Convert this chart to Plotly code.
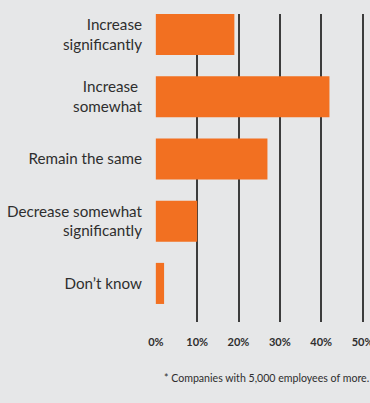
import plotly.graph_objects as go

categories = ["Increase<br>significantly", "Increase <br>somewhat", "Remain the same",
              "Decrease somewhat<br>significantly", "Don\u2019t know"]
values = [19, 42, 27, 10, 2]
tick_vals = [0, 10, 20, 30, 40, 50]
tick_text = ["0%", "10%", "20%", "30%", "40%", "50%"]
footnote = "* Companies with 5,000 employees of more."

BG = "#e6e7e8"
FONT = "Lato, 'DejaVu Sans', sans-serif"
fig = go.Figure(go.Bar(
    x=values, y=categories, orientation="h",
    marker=dict(color="#f27021", line=dict(width=0)),
    width=0.66, hoverinfo="skip",
))

fig.update_layout(
    width=370, height=403,
    margin=dict(l=155, r=5, t=14, b=81),
    paper_bgcolor=BG, plot_bgcolor=BG,
    showlegend=False,
    font=dict(family=FONT, color="#2e2e2e"),
    xaxis=dict(range=[-0.2, 50.6], tickvals=tick_vals, ticktext=tick_text,
               showgrid=True, gridcolor="#3c3c3c", gridwidth=1.6, zeroline=False,
               showline=False, ticks="", fixedrange=True, automargin=False,
               ticklabeloverflow="allow",
               tickfont=dict(size=11, family=FONT, color="#2e2e2e", weight="bold"),
               ticklabelstandoff=12),
    yaxis=dict(categoryorder="array", categoryarray=categories, automargin=False,
               range=[4.62, -0.33], showgrid=False, zeroline=False, showline=False,
               ticks="", tickfont=dict(size=15.2), ticklabelstandoff=12),
    annotations=[dict(text=footnote, xref="paper", yref="paper", x=0.034, y=-0.182,
                      xanchor="left", yanchor="middle", showarrow=False,
                      font=dict(size=10.6, color="#2e2e2e"))],
)

fig.write_html("out.html")
